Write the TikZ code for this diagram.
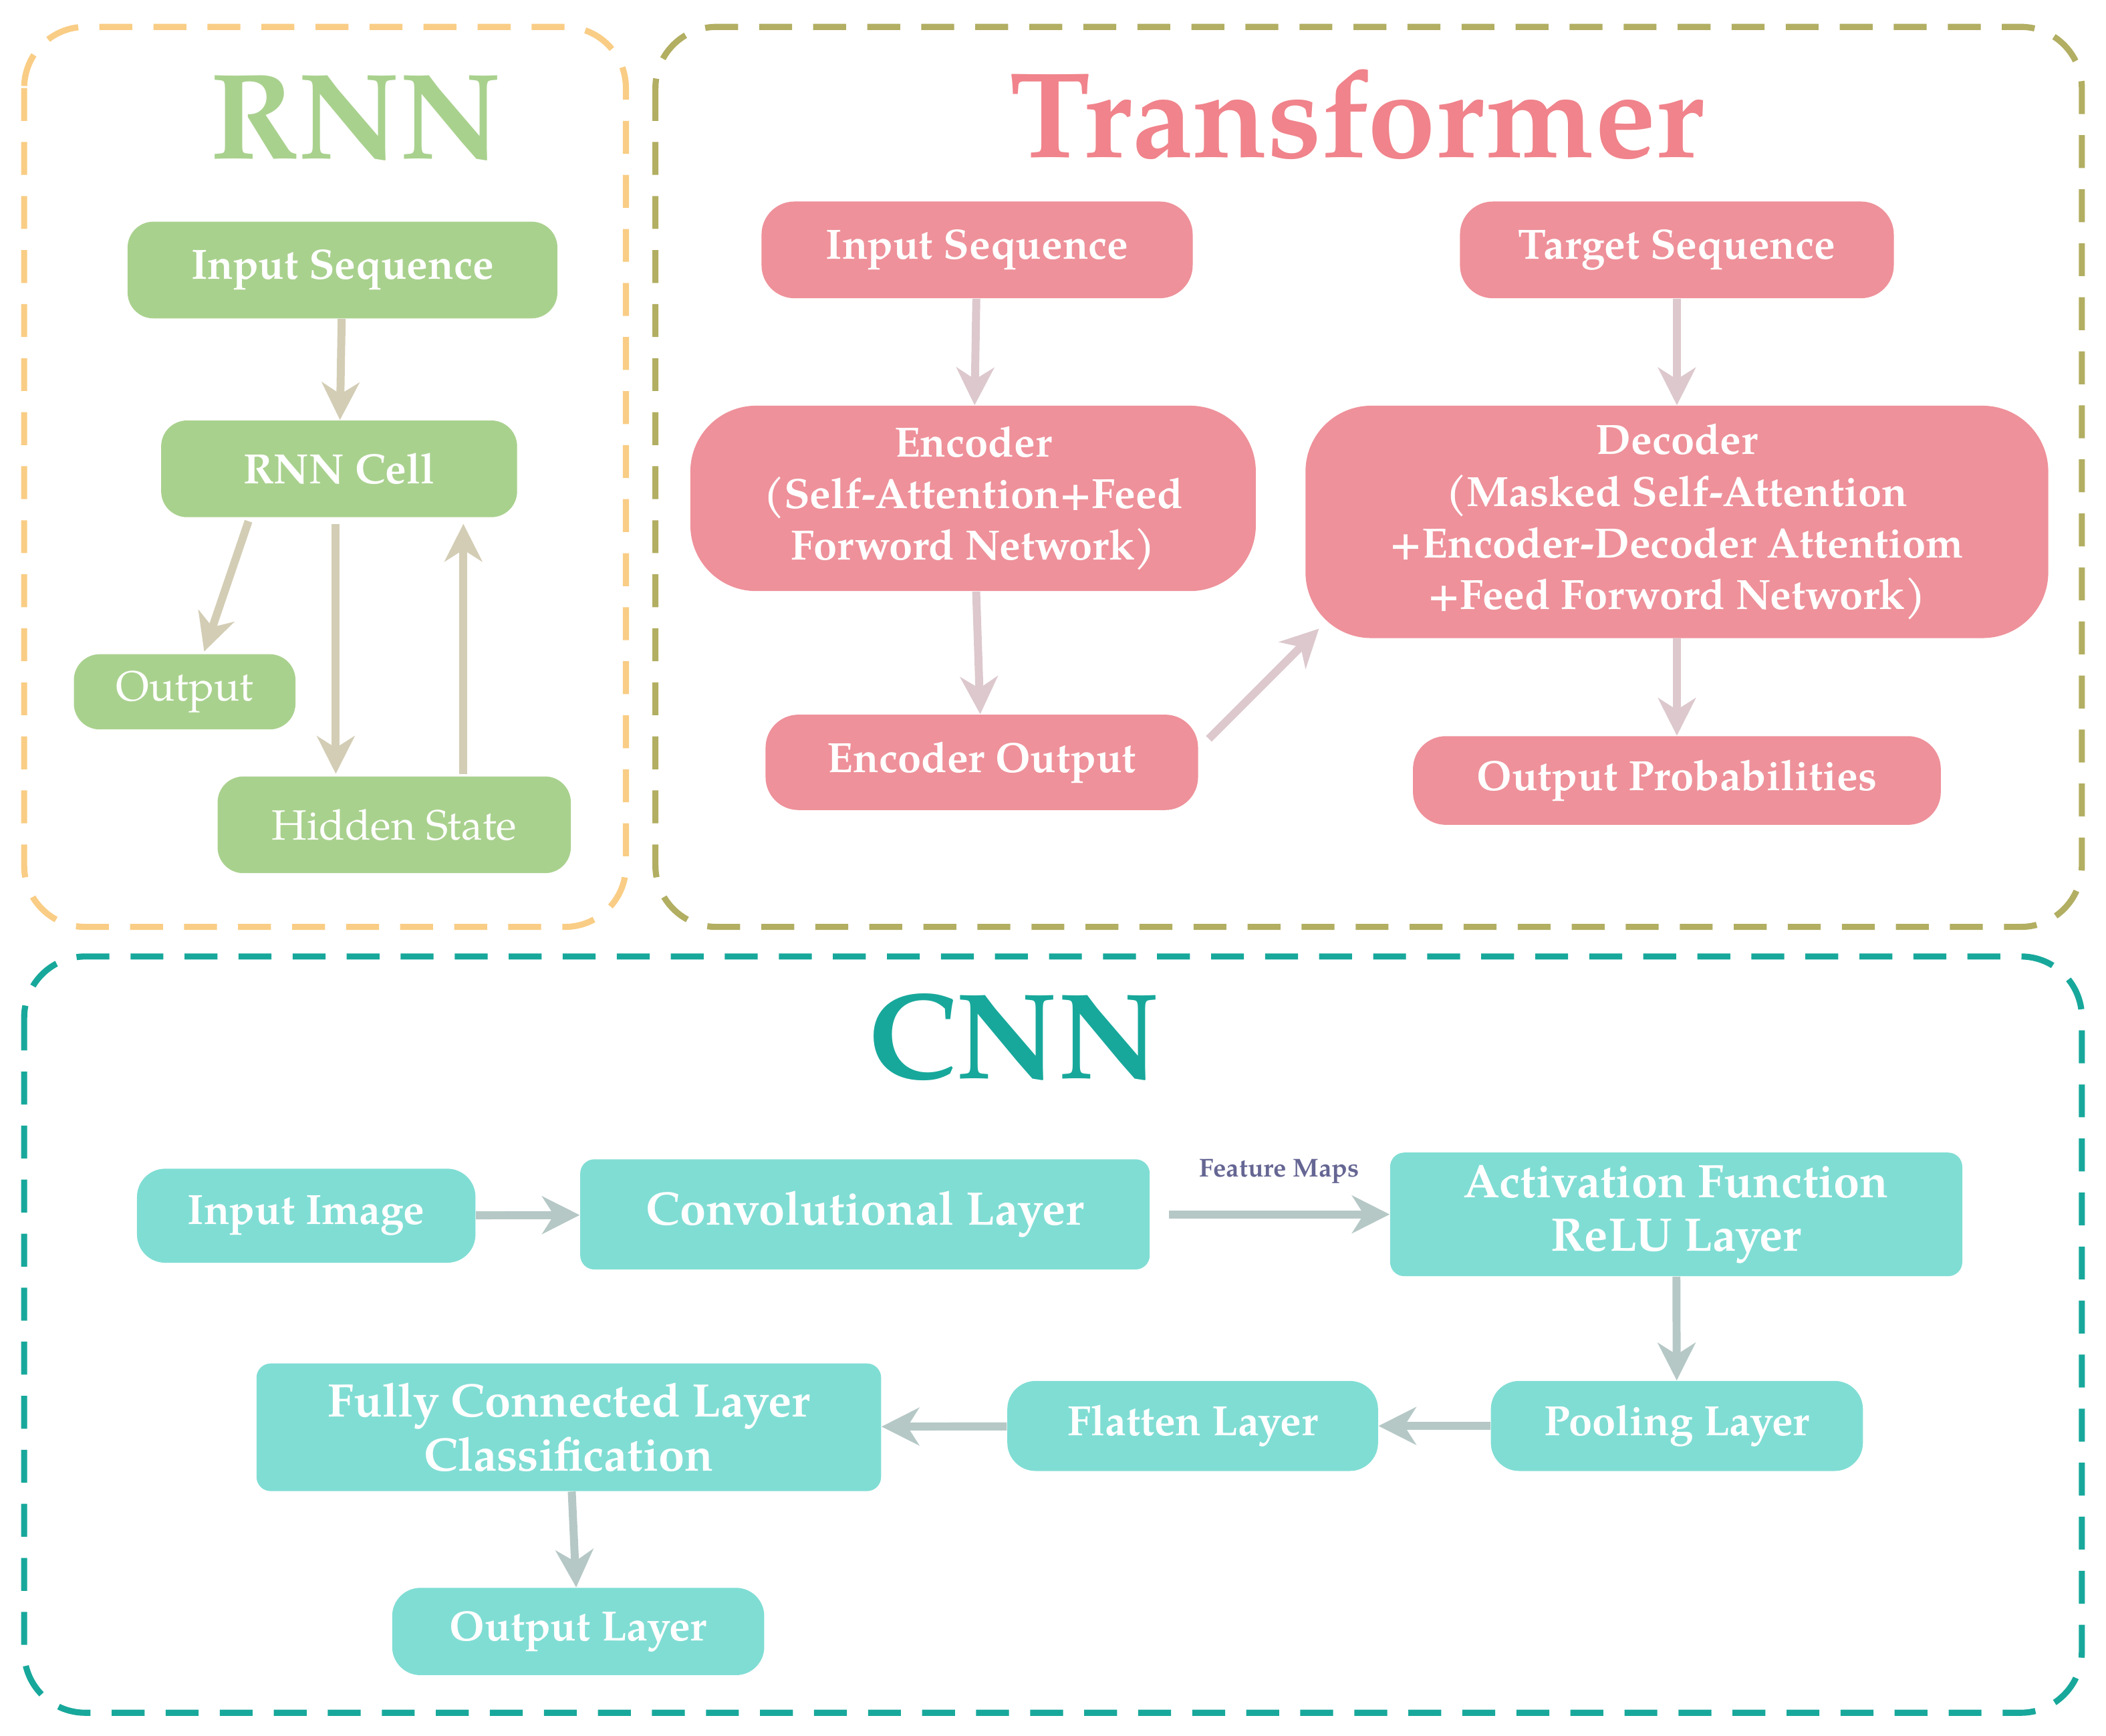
\documentclass[tikz,border=0pt]{standalone}
\usepackage{fontspec}
\setmainfont{TeX Gyre Pagella}
\usetikzlibrary{arrows.meta}
\definecolor{rnnfr}{HTML}{F9CD85}
\definecolor{trfr}{HTML}{B2AE62}
\definecolor{cnnfr}{HTML}{17A89B}
\definecolor{gnode}{HTML}{A9D18E}
\definecolor{pnode}{HTML}{EE919A}
\definecolor{tnode}{HTML}{80DDD4}
\definecolor{garr}{HTML}{D3CDB5}
\definecolor{parr}{HTML}{DCC8CD}
\definecolor{tarr}{HTML}{B5C8C6}
\newcommand\bx[8]{\node[#6, minimum width={(#4-#2)*0.0201cm}, minimum height={(#5-#3)*0.0201cm}] (#1) at ({(#2+#4)/2},{(#3+#5)/2}) {#7};}
\tikzset{
 nd/.style={text=white, font=\bfseries\fontsize{18}{22}\selectfont, align=center, inner sep=0pt},
 gn/.style={nd, fill=gnode, rounded corners=11pt},
 pn/.style={nd, fill=pnode, rounded corners=14pt},
 pnb/.style={nd, fill=pnode, rounded corners=28pt},
 tn/.style={nd, fill=tnode, rounded corners=6pt},
 tnr/.style={nd, fill=tnode, rounded corners=12pt},
 frame/.style={dashed, dash pattern=on 14pt off 9pt, line width=2.6pt, rounded corners=26pt},
 ar/.style={line width=3.4pt, -{Stealth[length=16pt,width=16pt,inset=5pt]}},
 ttl/.style={font=\bfseries\fontsize{52}{56}\selectfont}
}
\begin{document}
\begin{tikzpicture}[x=0.0201cm,y=-0.0201cm]
\useasboundingbox (0,0) rectangle (1568,1292);
\draw[frame, rnnfr] (18,20) rectangle (466,690);
\draw[frame, trfr] (488,20) rectangle (1550,690);
\draw[frame, cnnfr] (18,712) rectangle (1550,1275);
\node[ttl, text=gnode] (t1) at (265,88) {RNN};
\node[ttl, text=pnode!90!red] (t2) at (1010,85) {Transformer};
\node[ttl, text=cnnfr] (t3) at (755,772) {CNN};
% RNN
\bx{ri}{95}{165}{415}{237}{gn}{Input Sequence}{}
\bx{rc}{120}{313}{385}{385}{gn}{RNN Cell}{}
\bx{ro}{55}{487}{220}{543}{gn,font=\fontsize{18}{22}\selectfont}{Output}{}
\bx{rh}{162}{578}{425}{650}{gn,font=\fontsize{18}{22}\selectfont}{Hidden State}{}
\draw[ar,garr] (ri) -- (rc);
\coordinate (a1) at (185,388); \coordinate (a2) at (152,485);
\draw[ar,garr] (a1) -- (a2);
\coordinate (b1) at (250,390); \coordinate (b2) at (250,576);
\draw[ar,garr] (b1) -- (b2);
\coordinate (c1) at (345,576); \coordinate (c2) at (345,390);
\draw[ar,garr] (c1) -- (c2);
% Transformer
\bx{ti}{567}{150}{888}{222}{pn}{Input Sequence}{}
\bx{tt}{1087}{150}{1410}{222}{pn}{Target Sequence}{}
\bx{te}{514}{302}{935}{440}{pnb}{Encoder\\(Self-Attention+Feed\\Forword Network)}{}
\bx{td}{972}{302}{1525}{475}{pnb}{Decoder\\(Masked Self-Attention\\+Encoder-Decoder Attentiom\\+Feed Forword Network)}{}
\bx{teo}{570}{532}{892}{603}{pn}{Encoder Output}{}
\bx{top}{1052}{548}{1445}{614}{pn}{Output Probabilities}{}
\draw[ar,parr] (ti) -- (te);
\draw[ar,parr] (tt) -- (td);
\draw[ar,parr] (te) -- (teo);
\draw[ar,parr] (td) -- (top);
\coordinate (d1) at (900,550); \coordinate (d2) at (982,468);
\draw[ar,parr] (d1) -- (d2);
% CNN
\bx{ci}{102}{870}{354}{940}{tnr}{Input Image}{}
\bx{cc}{432}{863}{856}{945}{tn,font=\bfseries\fontsize{20}{24}\selectfont}{Convolutional Layer}{}
\bx{ca}{1035}{858}{1461}{950}{tn,font=\bfseries\fontsize{20}{23}\selectfont}{Activation Function\\ReLU Layer}{}
\bx{cp}{1110}{1028}{1387}{1095}{tnr}{Pooling Layer}{}
\bx{cf}{750}{1028}{1026}{1095}{tnr}{Flatten Layer}{}
\bx{cfc}{191}{1015}{656}{1110}{tn,font=\bfseries\fontsize{20}{23}\selectfont}{Fully Connected Layer\\Classification}{}
\bx{col}{292}{1182}{569}{1247}{tnr}{Output Layer}{}
\draw[ar,tarr] (ci) -- (cc);
\draw[ar,tarr] ([xshift=8pt]cc.east) -- node[above=8pt, text=black!70!blue!60, font=\bfseries\fontsize{11}{13}\selectfont] (fm) {Feature Maps} (ca);
\draw[ar,tarr] (ca) -- (cp);
\draw[ar,tarr] (cp) -- (cf);
\draw[ar,tarr] (cf) -- (cfc);
\draw[ar,tarr] (cfc) -- (col);
\end{tikzpicture}
\end{document}
